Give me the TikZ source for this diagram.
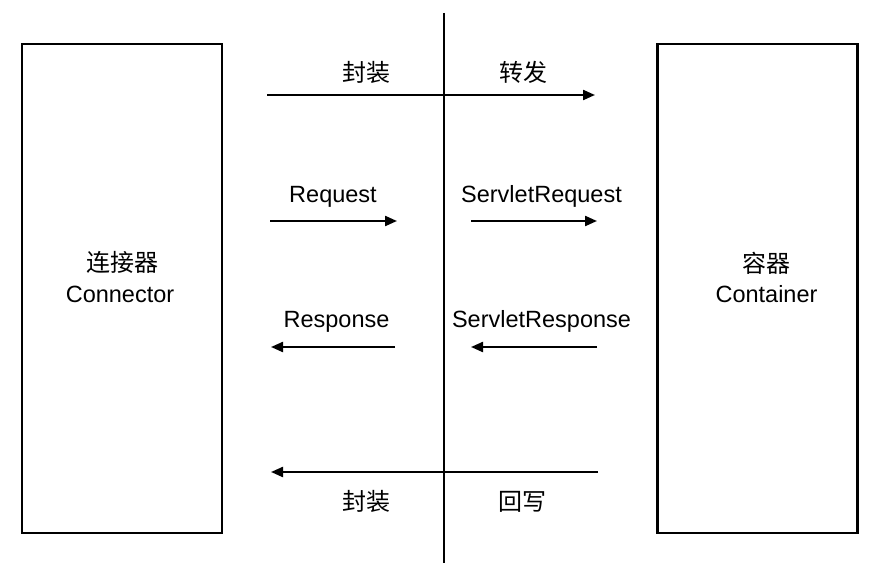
\documentclass[tikz,border=0pt]{standalone}
\usepackage{fontspec}
\setmainfont{Liberation Sans}
\newfontfamily\cjk{Noto Sans CJK SC}
\usetikzlibrary{arrows.meta}
\tikzset{
  box/.style={draw=black, line width=2.2pt, minimum width=200pt, minimum height=489pt, inner sep=0pt},
  arr/.style={line width=2.2pt, -{Triangle[length=12pt,width=10pt]}},
  lat/.style={inner sep=0pt, anchor=base, font=\fontsize{23.5}{28}\selectfont},
  han/.style={inner sep=0pt, anchor=center, font=\cjk\fontsize{24}{28}\selectfont},
  divider/.style={line width=2.6pt}
}
\begin{document}
\begin{tikzpicture}[x=1pt,y=-1pt]
\useasboundingbox[fill=white] (0,0) rectangle (879,575);
% boxes
\node[box] (conn) at (122,288.5) {};
\node[box] (cont) at (757.5,288.5) {};
\node[han] (connzh) at (122.5,262.5) {连接器};
\node[lat] (connen) at (120,302) {Connector};
\node[han] (contzh) at (766,263) {容器};
\node[lat] (conten) at (766.5,302) {Container};
% divider
\coordinate (vt) at (444,13);
\coordinate (vb) at (444,563);
\draw[divider] (vt) -- (vb);
% row 1
\coordinate (r1s) at (267,95);
\coordinate (r1e) at (595,95);
\draw[arr] (r1s) -- (r1e);
\node[han] (l1a) at (366,72) {封装};
\node[han] (l1b) at (523,72) {转发};
% row 2
\coordinate (r2as) at (270,221);
\coordinate (r2ae) at (397,221);
\draw[arr] (r2as) -- (r2ae);
\coordinate (r2bs) at (471,221);
\coordinate (r2be) at (597,221);
\draw[arr] (r2bs) -- (r2be);
\node[lat] (l2a) at (333,203) {Request};
\node[lat] (l2b) at (541.5,203) {ServletRequest};
% row 3
\coordinate (r3as) at (395,347);
\coordinate (r3ae) at (271,347);
\draw[arr] (r3as) -- (r3ae);
\coordinate (r3bs) at (597,347);
\coordinate (r3be) at (471,347);
\draw[arr] (r3bs) -- (r3be);
\node[lat] (l3a) at (336.5,327) {Response};
\node[lat] (l3b) at (541.5,327) {ServletResponse};
% row 4
\coordinate (r4s) at (598,472);
\coordinate (r4e) at (271,472);
\draw[arr] (r4s) -- (r4e);
\node[han] (l4a) at (366.5,501.5) {封装};
\node[han] (l4b) at (522,501.5) {回写};
\end{tikzpicture}
\end{document}
